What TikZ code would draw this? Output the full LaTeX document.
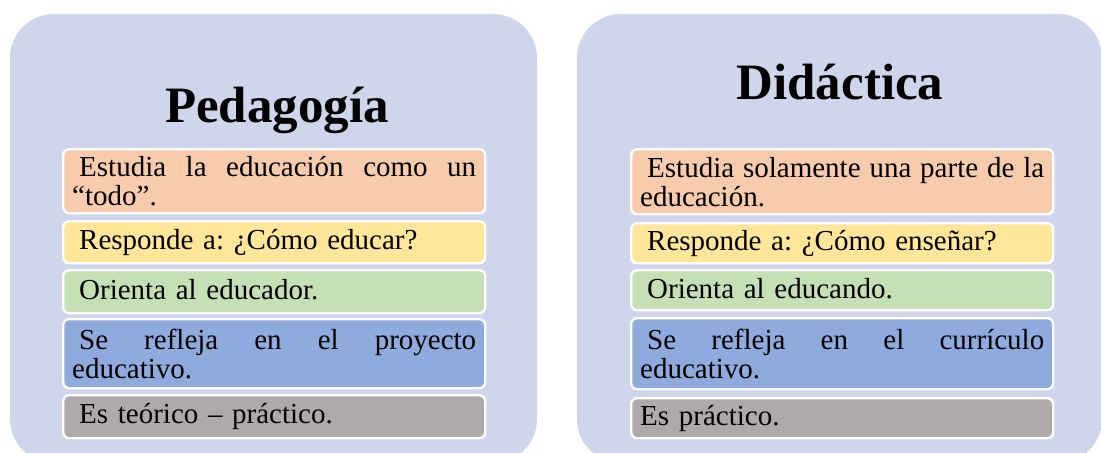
\documentclass[tikz,border=0pt]{standalone}
\usepackage{fontspec}
\setmainfont{Liberation Serif}
\usetikzlibrary{positioning}
\usepackage{xcolor}

\definecolor{panelbg}{RGB}{207,213,234}
\definecolor{peach}{RGB}{248,203,173}
\definecolor{butter}{RGB}{255,230,153}
\definecolor{mint}{RGB}{197,224,180}
\definecolor{sky}{RGB}{143,170,220}
\definecolor{stone}{RGB}{174,170,170}

\newcommand{\fullline}[1]{\hbox to 202pt{#1}}
\newcommand{\itemstrut}{\rule[-2pt]{0pt}{12pt}}
\frenchspacing

\begin{document}
\begin{tikzpicture}[x=0.5pt, y=-0.5pt]
    \tikzstyle{panel} = [fill=panelbg, rounded corners=22pt]
    \tikzstyle{heading} = [font=\fontsize{25.5}{30}\selectfont\bfseries, anchor=base]
    \tikzstyle{item} = [draw=white, line width=1.2pt, rounded corners=3pt, anchor=north west, text width=202pt, inner xsep=4.5pt, inner ysep=0pt, align=left, font=\fontsize{14.5}{14.5}\selectfont\frenchspacing]

    \clip (0,0) rectangle (1101,452);

    % Paneles
    \fill[panel] (10,14) rectangle (537,463);
    \fill[panel] (577,14) rectangle (1102,463);

    % Títulos
    \node[heading] (pedagogia) at (277,122) {Pedagogía};
    \node[heading] (didactica) at (840,99) {Didáctica};

    % Pedagogía
    \node[item, fill=peach, minimum height=32pt] (ped1) at (62,148) {\fullline{\kern3.5pt Estudia\hfil la\hfil educación\hfil como\hfil un}\\“todo”.};
    \node[item, fill=butter, minimum height=21pt] (ped2) at (62,220) {\itemstrut\kern3.5pt Responde a: ¿Cómo educar?};
    \node[item, fill=mint, minimum height=21.5pt] (ped3) at (62,269) {\itemstrut\kern3.5pt Orienta al educador.};
    \node[item, fill=sky, minimum height=34.5pt] (ped4) at (62,318) {\fullline{\kern3.5pt Se\hfil refleja\hfil en\hfil el\hfil proyecto}\\educativo.};
    \node[item, fill=stone, minimum height=21.5pt] (ped5) at (62,394) {\itemstrut\kern3.5pt Es teórico – práctico.};

    % Didáctica
    \node[item, fill=peach, minimum height=32.5pt] (did1) at (630,148) {\fullline{\kern3.5pt Estudia\hfil solamente\hfil una\hfil parte\hfil de\hfil la}\\educación.};
    \node[item, fill=butter, minimum height=20pt] (did2) at (630,222) {\itemstrut\kern3.5pt Responde a: ¿Cómo enseñar?};
    \node[item, fill=mint, minimum height=20pt] (did3) at (630,269) {\itemstrut\kern3.5pt Orienta al educando.};
    \node[item, fill=sky, minimum height=35.5pt] (did4) at (630,317) {\fullline{\kern3.5pt Se\hfil refleja\hfil en\hfil el\hfil currículo}\\educativo.};
    \node[item, fill=stone, minimum height=20pt] (did5) at (630,397) {\itemstrut Es práctico.};
\end{tikzpicture}
\end{document}
